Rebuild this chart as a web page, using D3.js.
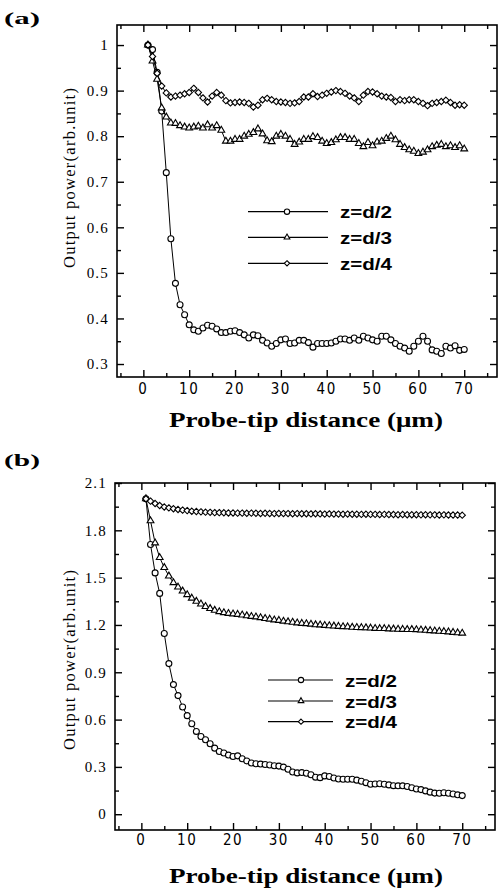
<!DOCTYPE html>
<html lang="en">
<head>
<meta charset="UTF-8">
<script src="https://d3js.org/d3.v7.min.js"></script>
<style>
  body { margin: 0; background: #fff; }
  svg { display: block; }
  .ytick { font-family: "Liberation Serif", "Times New Roman", serif; font-size: 15px; letter-spacing: 1.2px; }
  .xtick { font-family: "Liberation Sans Narrow", "DejaVu Sans Condensed", sans-serif; font-size: 15px; letter-spacing: 1.5px; }
  .ylab { font-family: "Liberation Serif", serif; font-size: 16.5px; }
  .xlab { font-family: "Liberation Serif", serif; font-size: 20px; font-weight: bold; }
  .panel-tag { font-family: "Liberation Serif", serif; font-size: 17px; font-weight: bold; }
  .legend text { font-family: "Liberation Sans", Arial, sans-serif; font-size: 17px; font-weight: bold; }
</style>
</head>
<body>
<svg id="chart" width="504" height="891"></svg>
<script>

// probe-tip distance (um), same for every curve
const distance = [1,2,3,4,5,6,7,8,9,10,11,12,13,14,15,16,17,18,19,20,
  21,22,23,24,25,26,27,28,29,30,31,32,33,34,35,36,37,38,39,40,
  41,42,43,44,45,46,47,48,49,50,51,52,53,54,55,56,57,58,59,60,
  61,62,63,64,65,66,67,68,69,70]

// panel (a)
const aHalf = [1.000,0.990,0.940,0.855,0.720,0.575,0.477,0.430,0.408,0.386,
  0.375,0.372,0.379,0.385,0.383,0.377,0.369,0.369,0.372,0.373,
  0.369,0.364,0.357,0.364,0.362,0.352,0.346,0.339,0.345,0.353,
  0.355,0.345,0.346,0.352,0.352,0.347,0.337,0.345,0.345,0.345,
  0.346,0.350,0.355,0.355,0.352,0.357,0.352,0.361,0.357,0.353,
  0.350,0.361,0.361,0.353,0.345,0.339,0.335,0.328,0.339,0.350,
  0.361,0.350,0.331,0.328,0.323,0.339,0.335,0.340,0.330,0.332]
const aThird = [1.000,0.965,0.925,0.862,0.842,0.829,0.828,0.823,0.820,0.818,
  0.820,0.822,0.818,0.825,0.818,0.823,0.813,0.789,0.789,0.793,
  0.793,0.800,0.804,0.808,0.816,0.805,0.790,0.788,0.800,0.804,
  0.800,0.793,0.782,0.787,0.793,0.793,0.799,0.797,0.789,0.784,
  0.786,0.792,0.797,0.797,0.793,0.793,0.784,0.777,0.786,0.779,
  0.787,0.789,0.795,0.800,0.792,0.782,0.775,0.770,0.767,0.762,
  0.765,0.770,0.777,0.780,0.782,0.777,0.779,0.775,0.779,0.772]
const aQuarter = [1.000,0.975,0.938,0.910,0.895,0.886,0.888,0.890,0.893,0.896,
  0.905,0.896,0.884,0.875,0.888,0.896,0.890,0.878,0.873,0.874,
  0.875,0.874,0.872,0.864,0.868,0.880,0.883,0.880,0.876,0.875,
  0.874,0.872,0.873,0.876,0.886,0.886,0.893,0.887,0.890,0.894,
  0.897,0.900,0.898,0.894,0.888,0.884,0.876,0.890,0.898,0.897,
  0.893,0.888,0.886,0.885,0.876,0.880,0.878,0.880,0.880,0.876,
  0.872,0.867,0.872,0.874,0.876,0.879,0.874,0.868,0.869,0.868]

// panel (b)
const bHalf = [2.000,1.710,1.530,1.400,1.146,0.955,0.822,0.752,0.680,0.625,
  0.574,0.525,0.493,0.472,0.447,0.419,0.398,0.388,0.375,0.366,
  0.370,0.352,0.338,0.325,0.320,0.318,0.315,0.312,0.307,0.305,
  0.299,0.285,0.268,0.262,0.264,0.260,0.250,0.235,0.232,0.243,
  0.239,0.230,0.223,0.222,0.222,0.222,0.216,0.209,0.200,0.190,
  0.192,0.193,0.190,0.186,0.181,0.180,0.180,0.176,0.168,0.160,
  0.156,0.148,0.140,0.134,0.133,0.136,0.133,0.128,0.123,0.118]
const bThird = [2.000,1.860,1.720,1.627,1.564,1.510,1.468,1.440,1.415,1.392,
  1.370,1.350,1.333,1.317,1.304,1.293,1.284,1.278,1.273,1.270,
  1.267,1.263,1.258,1.254,1.251,1.246,1.241,1.237,1.232,1.229,
  1.224,1.220,1.217,1.213,1.210,1.208,1.205,1.201,1.200,1.197,
  1.195,1.193,1.191,1.189,1.188,1.185,1.184,1.183,1.182,1.180,
  1.178,1.177,1.177,1.175,1.174,1.173,1.172,1.171,1.171,1.170,
  1.168,1.166,1.164,1.162,1.160,1.158,1.156,1.153,1.150,1.148]
const bQuarter = [2.000,1.985,1.970,1.957,1.948,1.942,1.937,1.932,1.928,1.925,
  1.921,1.919,1.917,1.915,1.914,1.912,1.912,1.911,1.910,1.910,
  1.909,1.909,1.908,1.909,1.908,1.907,1.908,1.907,1.906,1.907,
  1.906,1.906,1.905,1.906,1.905,1.905,1.904,1.905,1.904,1.903,
  1.904,1.903,1.903,1.902,1.903,1.902,1.902,1.901,1.902,1.901,
  1.901,1.900,1.901,1.900,1.900,1.899,1.900,1.899,1.899,1.899,
  1.898,1.899,1.898,1.898,1.897,1.898,1.897,1.897,1.897,1.896]

const legendLabels = ["z=d/2", "z=d/3", "z=d/4"]
const xTicks = [0,10,20,30,40,50,60,70]
const xMinor = [-5,5,15,25,35,45,55,65,75]
const aYTicks = [0.3,0.4,0.5,0.6,0.7,0.8,0.9,1]
const aYMinor = [0.35,0.45,0.55,0.65,0.75,0.85,0.95]
const bYTicks = [0,0.3,0.6,0.9,1.2,1.5,1.8,2.1]
const bYMinor = [0.15,0.45,0.75,1.05,1.35,1.65,1.95]

const diamond = {
  draw(ctx, size) {
    const r = Math.sqrt(size / 2)
    ctx.moveTo(0, -r); ctx.lineTo(r, 0); ctx.lineTo(0, r); ctx.lineTo(-r, 0); ctx.closePath()
  }
}
const shapes = [d3.symbol(d3.symbolCircle, 28), d3.symbol(d3.symbolTriangle, 20), d3.symbol(diamond, 20)]

const svg = d3.select("#chart")

function drawPanel(p) {
  let x = d3.scaleLinear().domain([-5.75, 77.15]).range([p.left, p.right])
  let y = d3.scaleLinear().domain(p.yDomain).range([p.bottom, p.top])
  let g = svg.append("g")

  // ticks on all four sides, pointing inward
  const ax = (axis, vals, size, tx, ty) => {
    let a = g.append("g").attr("transform", `translate(${tx},${ty})`)
      .call(axis.tickValues(vals).tickSize(size).tickSizeOuter(0).tickFormat(""))
    a.select(".domain").remove()
    a.selectAll(".tick line").attr("stroke", "#000").attr("stroke-width", 1.4)
    return a
  }
  ax(d3.axisBottom(x), xTicks, -7, 0, p.bottom)
  ax(d3.axisBottom(x), xMinor, -4, 0, p.bottom)
  ax(d3.axisTop(x), xTicks, -7, 0, p.top)
  ax(d3.axisTop(x), xMinor, -4, 0, p.top)
  ax(d3.axisLeft(y), p.yTicks, -7, p.left, 0)
  ax(d3.axisLeft(y), p.yMinor, -4, p.left, 0)
  ax(d3.axisRight(y), p.yTicks, -7, p.right, 0)
  ax(d3.axisRight(y), p.yMinor, -4, p.right, 0)

  g.append("rect")
    .attr("x", p.left).attr("y", p.top)
    .attr("width", p.right - p.left).attr("height", p.bottom - p.top)
    .attr("fill", "none").attr("stroke", "#000").attr("stroke-width", 1.6)

  // tick labels
  g.selectAll(".xtick").data(xTicks).join("text")
    .attr("class", "xtick")
    .attr("x", d => x(d)).attr("y", p.bottom + p.xLabOff)
    .attr("text-anchor", "middle")
    .text(d => d)
  g.selectAll(".ytick").data(p.yTicks).join("text")
    .attr("class", "ytick")
    .attr("x", p.left - 8).attr("y", d => y(d)).attr("dy", "0.35em")
    .attr("text-anchor", "end")
    .text(p.fmt)

  // axis titles
  g.append("text").attr("class", "ylab")
    .attr("transform", `translate(75,${p.ylabY}) rotate(-90)`)
    .attr("text-anchor", "middle")
    .attr("textLength", 180).attr("lengthAdjust", "spacing")
    .text("Output power(arb.unit)")
  g.append("text").attr("class", "xlab")
    .attr("x", 306).attr("y", p.xTitleY)
    .attr("text-anchor", "middle")
    .attr("textLength", 274).attr("lengthAdjust", "spacingAndGlyphs")
    .text("Probe-tip distance (\u03bcm)")
  g.append("text").attr("class", "panel-tag")
    .attr("x", 4).attr("y", p.tagY)
    .attr("textLength", 36).attr("lengthAdjust", "spacingAndGlyphs")
    .text(p.tag)

  // curves
  let line = d3.line().x(d => x(d[0])).y(d => y(d[1]))
  p.series.forEach((vals, i) => {
    let pts = distance.map((d, j) => [d, vals[j]])
    g.append("path").datum(pts)
      .attr("d", line).attr("fill", "none").attr("stroke", "#000").attr("stroke-width", 1)
    g.selectAll(".m" + i).data(pts).join("path")
      .attr("class", "m" + i)
      .attr("transform", d => `translate(${x(d[0])},${y(d[1])})`)
      .attr("d", shapes[i]())
      .attr("fill", "#fff").attr("stroke", "#000").attr("stroke-width", 1.1)
  })

  // legend
  let lg = g.append("g").attr("class", "legend")
  legendLabels.forEach((lab, i) => {
    let ly = p.legY[i]
    lg.append("line")
      .attr("x1", p.legX[0]).attr("x2", p.legX[1]).attr("y1", ly).attr("y2", ly)
      .attr("stroke", "#000").attr("stroke-width", 1.2)
    lg.append("path")
      .attr("transform", `translate(${p.legMark},${ly})`)
      .attr("d", d3.symbol(i === 0 ? d3.symbolCircle : i === 1 ? d3.symbolTriangle : diamond, i === 0 ? 22 : 14)())
      .attr("fill", "#fff").attr("stroke", "#000").attr("stroke-width", 1.1)
    lg.append("text")
      .attr("x", p.legX[1] + 12).attr("y", ly + 6.5)
      .attr("textLength", 52).attr("lengthAdjust", "spacingAndGlyphs")
      .text(lab)
  })
}

drawPanel({
  tag: "(a)", tagY: 24,
  left: 117, right: 497, top: 25, bottom: 377,
  yDomain: [0.2715, 1.044], yTicks: aYTicks, yMinor: aYMinor,
  fmt: d => d === 1 ? "1" : d.toFixed(1),
  xLabOff: 17, xTitleY: 427, ylabY: 178,
  series: [aHalf, aThird, aQuarter],
  legX: [248, 328], legMark: 287, legY: [211.7, 237.3, 263.3]
})

drawPanel({
  tag: "(b)", tagY: 466,
  left: 115, right: 495, top: 483, bottom: 830,
  yDomain: [-0.1, 2.1], yTicks: bYTicks, yMinor: bYMinor,
  fmt: d => d === 0 ? "0" : d.toFixed(1),
  xLabOff: 15, xTitleY: 883, ylabY: 660,
  series: [bHalf, bThird, bQuarter],
  legX: [268, 333], legMark: 301, legY: [680, 701, 721.7]
})

</script>
</body>
</html>
